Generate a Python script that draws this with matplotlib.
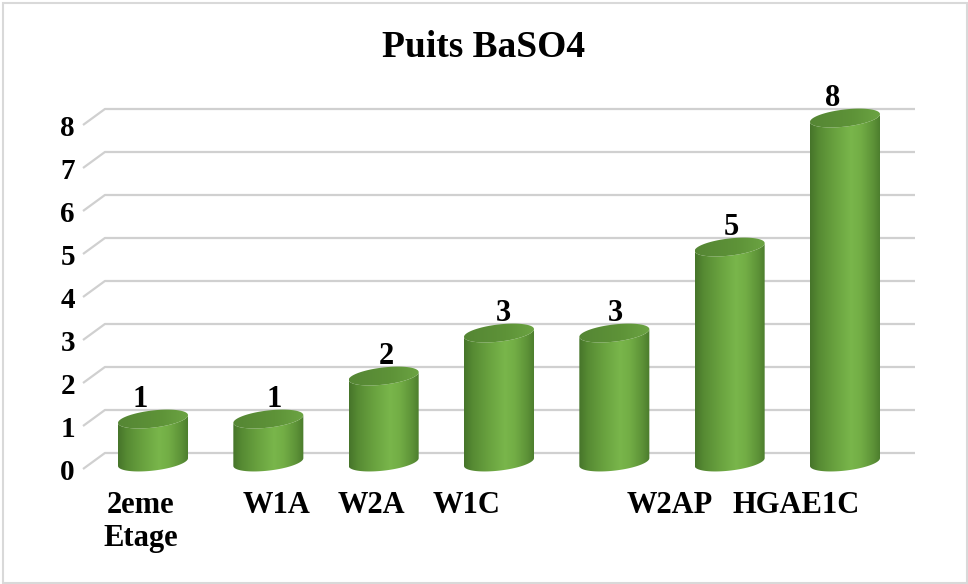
import numpy as np
import matplotlib
matplotlib.use("Agg")
import matplotlib.pyplot as plt
from matplotlib.patches import PathPatch, Rectangle
from matplotlib.path import Path
from matplotlib.colors import LinearSegmentedColormap

# ---- data -------------------------------------------------------------
categories = ["2eme\nEtage", "W1A", "W2A", "W1C", "", "W2AP", "HGAE1C"]
values = [1, 1, 2, 3, 3, 5, 8]
y_ticks = [0, 1, 2, 3, 4, 5, 6, 7, 8]
title = "Puits BaSO4"

# ---- layout -----------------------------------------------------------
W, H = 968, 584
DPI = 100
SERIF = ["Liberation Serif", "DejaVu Serif"]

# horizontal placement of category labels relative to their bar (data units)
label_dx = [-0.11, 0.07, -0.11, -0.28, 0.0, -0.52, -0.42]
# horizontal nudge of the value labels (points)
value_dx = [-9, 4, 2, 3, 1, 1, -9]

x_min, x_max = -0.607, 6.607
y_min, y_max = -0.80, 8.50
depth_x = 0.19      # wall slant, category units
depth_y = 0.372     # wall slant, value units
mid_y = 0.21        # cylinders sit half-way into the depth
bar_w = 0.607
ell_b = 0.20        # ellipse half-height (value units)
ell_tilt = 0.09     # perspective tilt of the ellipses

fig = plt.figure(figsize=(W / DPI, H / DPI), dpi=DPI)
fig.patch.set_facecolor("white")

px_l, px_r = 83, 915
px_t = 453 - 43 * y_max
px_b = 453 - 43 * y_min
ax = fig.add_axes([px_l / W, 1 - px_b / H, (px_r - px_l) / W, (px_b - px_t) / H])
ax.set_xlim(x_min, x_max)
ax.set_ylim(y_min, y_max)
ax.axis("off")

# ---- gridlines with the slanted side wall -----------------------------
grid_col = "#d0d0d0"
for v in y_ticks:
    ax.plot([x_min, x_min + depth_x, x_max], [v - depth_y, v, v],
            color=grid_col, lw=1.6, zorder=1, solid_capstyle="butt",
            clip_on=False)
    ax.text(x_min - 0.07, v - depth_y - 0.08, str(v), ha="right", va="center",
            fontsize=21, fontweight="bold", family=SERIF, color="black")

# ---- cylinders --------------------------------------------------------
body_cmap = LinearSegmentedColormap.from_list(
    "body", [(0.0, "#46742a"), (0.12, "#568a33"), (0.35, "#69a23f"),
             (0.58, "#79b64b"), (0.72, "#72ad45"), (0.9, "#5c9137"),
             (1.0, "#4a7b2c")])
top_cmap = LinearSegmentedColormap.from_list(
    "top", [(0.0, "#558634"), (0.6, "#5e9338"), (1.0, "#6ca443")])


def ellipse_pts(xc, yc, t):
    return np.column_stack([xc + bar_w / 2 * np.cos(t),
                            yc + ell_b * np.sin(t) + ell_tilt * np.cos(t)])


for i, val in enumerate(values):
    base = -mid_y
    top = val - mid_y
    # body silhouette: left side, lower half of the bottom ellipse,
    # right side, front half of the top ellipse
    left_side = np.array([[i - bar_w / 2, top - ell_tilt],
                          [i - bar_w / 2, base - ell_tilt]])
    bottom = ellipse_pts(i, base, np.linspace(np.pi, 2 * np.pi, 60))
    right_side = np.array([[i + bar_w / 2, top + ell_tilt]])
    top_front = ellipse_pts(i, top, np.linspace(0, -np.pi, 60))
    verts = np.vstack([left_side, bottom, right_side, top_front])
    body = PathPatch(Path(verts, closed=False), facecolor="none",
                     edgecolor="none", zorder=3)
    ax.add_patch(body)
    grad = np.linspace(0, 1, 256).reshape(1, -1)
    im = ax.imshow(grad, cmap=body_cmap, aspect="auto",
                   extent=[i - bar_w / 2, i + bar_w / 2,
                           base - ell_b - ell_tilt, top + ell_b],
                   zorder=3, interpolation="bilinear")
    im.set_clip_path(body)

    cap_pts = ellipse_pts(i, top, np.linspace(0, 2 * np.pi, 120))
    cap = PathPatch(Path(cap_pts, closed=True), facecolor="none",
                    edgecolor="none", zorder=4)
    ax.add_patch(cap)
    im2 = ax.imshow(grad, cmap=top_cmap, aspect="auto",
                    extent=[i - bar_w / 2, i + bar_w / 2,
                            top - ell_b - ell_tilt, top + ell_b + ell_tilt],
                    zorder=4, interpolation="bilinear")
    im2.set_clip_path(cap)

    ax.annotate(str(val), (i, val + 0.07), xytext=(value_dx[i], 0),
                textcoords="offset points", ha="center", va="baseline",
                fontsize=22, fontweight="bold", family=SERIF, zorder=5)

    ax.text(i + label_dx[i], -0.88, categories[i], ha="center", va="top",
            fontsize=22, fontweight="bold", family=SERIF, linespacing=1.2,
            clip_on=False)

ax.set_xlim(x_min, x_max)
ax.set_ylim(y_min, y_max)

# ---- title and frame --------------------------------------------------
fig.text(0.5, 1 - 57 / H, title, ha="center", va="baseline",
         fontsize=27, fontweight="bold", family=SERIF)
fig.patches.append(Rectangle((2.5 / W, 1.5 / H), (964 / W), (580 / H),
                             transform=fig.transFigure, fill=False,
                             edgecolor="#d9d9d9", lw=1.5))

fig.savefig("out.png", dpi=DPI)
